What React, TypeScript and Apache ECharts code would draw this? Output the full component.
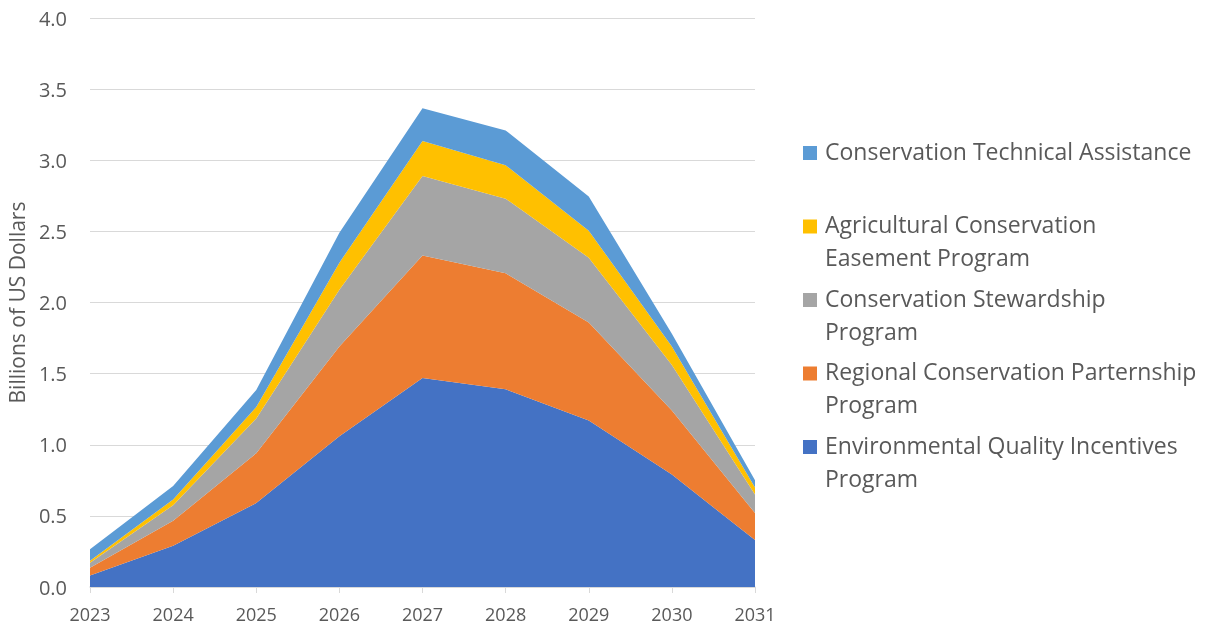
import React, { useEffect, useRef } from "react";
import * as echarts from "echarts";

const years = ["2023", "2024", "2025", "2026", "2027", "2028", "2029", "2030", "2031"];

const seriesNames = [
  "Environmental Quality Incentives Program",
  "Regional Conservation Parternship Program",
  "Conservation Stewardship Program",
  "Agricultural Conservation Easement Program",
  "Conservation Technical Assistance",
];

const eqip = [0.08, 0.29, 0.59, 1.06, 1.47, 1.39, 1.17, 0.79, 0.33];
const rcpp = [0.055, 0.175, 0.35, 0.63, 0.86, 0.815, 0.69, 0.45, 0.19];
const csp = [0.035, 0.11, 0.245, 0.4, 0.56, 0.525, 0.455, 0.32, 0.13];
const acep = [0.015, 0.04, 0.08, 0.19, 0.245, 0.235, 0.19, 0.13, 0.05];
const cta = [0.08, 0.095, 0.12, 0.21, 0.23, 0.245, 0.24, 0.09, 0.05];

const seriesValues = [eqip, rcpp, csp, acep, cta];
const colors = ["#4472C4", "#ED7D31", "#A5A5A5", "#FFC000", "#5B9BD5"];

// legend text lines (top to bottom order of legend)
const legendOrder = [4, 3, 2, 1, 0];
const legendLines = [
  ["Conservation Technical Assistance"],
  ["Agricultural Conservation", "Easement Program"],
  ["Conservation Stewardship", "Program"],
  ["Regional Conservation Parternship", "Program"],
  ["Environmental Quality Incentives", "Program"],
];

const FONT = "'Open Sans', sans-serif";
const TXT = "#595959";

export default function App() {
  const ref = useRef<HTMLDivElement>(null);
  useEffect(() => {
    if (!ref.current) return;
    const chart = echarts.init(ref.current, undefined, { renderer: "svg" });

    const graphic: any[] = [];
    legendOrder.forEach((si, i) => {
      const cy = 153 + i * 73.5;
      graphic.push({
        type: "rect",
        left: 803,
        top: cy - 7,
        shape: { width: 14, height: 14 },
        style: { fill: colors[si] },
      });
      legendLines[i].forEach((line, li) => {
        graphic.push({
          type: "text",
          left: 825,
          top: cy - 14 + li * 33,
          style: {
            text: line,
            fill: TXT,
            font: `23px ${FONT}`,
          },
        });
      });
    });

    chart.setOption({
      animation: false,
      grid: { left: 90, right: 451, top: 18, bottom: 39, outerBoundsMode: "none" },
      legend: { show: false },
      xAxis: {
        type: "category",
        data: years,
        boundaryGap: false,
        axisLine: { lineStyle: { color: "#D9D9D9", width: 1.5 } },
        axisTick: { show: true, length: 6, lineStyle: { color: "#D9D9D9" } },
        axisLabel: { color: TXT, fontSize: 18, fontFamily: FONT, margin: 18 },
      },
      yAxis: {
        type: "value",
        min: 0,
        max: 4,
        interval: 0.5,
        name: "Billions of US Dollars",
        nameLocation: "middle",
        nameGap: 58,
        nameTextStyle: { color: TXT, fontSize: 21, fontFamily: FONT },
        axisLine: { show: false },
        axisTick: { show: false },
        splitLine: { lineStyle: { color: "#D9D9D9", width: 1.2 } },
        axisLabel: {
          color: TXT,
          fontSize: 20,
          fontFamily: FONT,
          margin: 23,
          formatter: (v: number) => v.toFixed(1),
        },
      },
      series: seriesValues.map((vals, i) => ({
        name: seriesNames[i],
        type: "line",
        stack: "total",
        data: vals,
        symbol: "none",
        lineStyle: { width: 0 },
        areaStyle: { color: colors[i], opacity: 1 },
        itemStyle: { color: colors[i] },
      })),
      graphic,
    });
    return () => chart.dispose();
  }, []);
  return (
    <div
      ref={ref}
      style={{ position: "fixed", left: 0, top: 0, width: 1206, height: 626 }}
    />
  );
}
